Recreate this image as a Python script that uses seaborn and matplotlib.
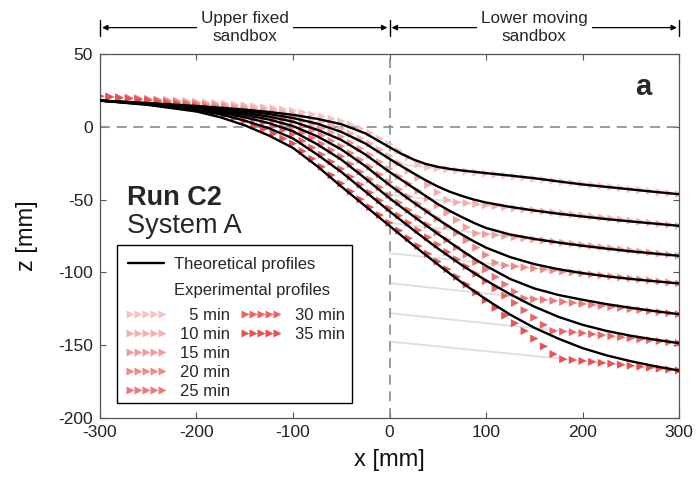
import numpy as np
import pandas as pd
import matplotlib
matplotlib.use("Agg")
import matplotlib.pyplot as plt
import seaborn as sns
from matplotlib.lines import Line2D
from matplotlib.patches import Rectangle
from matplotlib.transforms import blended_transform_factory

# ---------------- data ----------------
times = ["5 min", "10 min", "15 min", "20 min", "25 min", "30 min", "35 min"]

x_theory = [-300, -250, -200, -175, -150, -125, -100, -75, -50, -25, 0, 12.5, 25, 37.5,
            50, 62.5, 75, 87.5, 100, 125, 150, 175, 200, 225, 250, 275, 300]
theory_5 = [18, 16.3, 14.3, 13.1, 11.8, 10.2, 8.2, 5.5, 1.8, -4.5, -14, -18.6, -22.5, -25.5,
            -27.5, -28.9, -30, -30.9, -31.8, -33.5, -35.3, -37.5, -39.6, -41.3, -43, -44.7,
            -46.3]
theory_10 = [18, 16.1, 13.8, 12.4, 10.8, 8.8, 6.0, 2.2, -3.5, -11.5, -22, -27.1, -32, -36.7,
             -41, -44.6, -47.5, -50, -52, -55, -57.5, -59.7, -61.6, -63.4, -65, -66.5, -68]
theory_15 = [18, 16, 13.3, 11.6, 9.5, 7.0, 3.5, -2, -9, -19, -31, -36.5, -42, -47.5,
             -53, -57.8, -62, -66, -69.5, -74, -77, -79.5, -81.7, -83.7, -85.5, -87.1, -88.6]
theory_20 = [18, 15.8, 12.8, 10.7, 8.2, 5, 0.5, -6.5, -15.5, -27, -40, -46, -52, -57.8,
             -63.5, -68.9, -74, -78.7, -83, -89.5, -94.3, -97.8, -100.5, -102.7, -104.5,
             -106.1, -107.6]
theory_25 = [18, 15.6, 12.2, 9.7, 6.5, 2.5, -3, -12, -22.5, -35.5, -49, -55.3, -61.5, -67.5,
             -73.5, -79.3, -85, -90.4, -95.5, -104.5, -111, -115.5, -118.8, -121.8, -124.3,
             -126.6, -128.7]
theory_30 = [18, 15.3, 11.5, 8.5, 4.2, -1, -8, -19, -31, -44.5, -58, -64.5, -71, -77.3,
             -83.5, -89.3, -95, -100.4, -105.5, -115, -123.5, -130.5, -136, -140.2, -143.5,
             -146.2, -148.6]
theory_35 = [18, 15, 10.5, 6.5, 1, -6, -14.5, -27, -41, -54.5, -68, -74.8, -81.5, -88,
             -94.5, -100.8, -107, -112.8, -118.5, -129, -138, -145.5, -152, -157, -161,
             -164.4, -167.4]

x_exp = [-300, -290, -280, -270, -260, -250, -240, -230, -220, -210, -200, -190, -180,
         -170, -160, -150, -140, -130, -120, -110, -100, -90, -80, -70, -60, -50, -40,
         -30, -20, -10, 0, 10, 20, 30, 40, 50, 60, 70, 80, 90, 100, 110, 120, 130, 140,
         150, 160, 170, 180, 190, 200, 210, 220, 230, 240, 250, 260, 270, 280, 290, 300]
exp_5 = [21, 20.7, 20.3, 20, 19.6, 19.3, 18.9, 18.5, 18.1, 17.7, 17.3, 16.8, 16.3, 15.8,
         15.3, 14.8, 14.2, 13.5, 12.8, 12, 11.2, 9.8, 8.5, 7.1, 5.5, 3.9, 1.4, -1.1, -4.3,
         -8.2, -12,
         -16.5, -21, -25.8, -27.8, -28.6, -29.3, -30, -30.7, -31.4, -32.1, -32.8, -33.5,
         -34.2, -34.9, -35.7, -36.4, -37.1, -37.8, -38.5, -39.2, -39.9, -40.6, -41.3, -42,
         -42.8, -43.5, -44.2, -44.9, -45.6, -46.3]
exp_10 = [21, 20.6, 20.2, 19.9, 19.5, 19.1, 18.6, 18.2, 17.7, 17.3, 16.8, 16.2, 15.7, 15.1,
          14.4, 13.8, 13, 12.2, 11.3, 10.1, 9, 7.2, 5.5, 3.4, 1.0, -1.4, -4.7, -7.9, -11.6,
          -15.8, -20,
          -25, -30, -35, -40, -45, -50.3, -51.9, -52.4, -53.1, -53.8, -54.5, -55.2, -55.9,
          -56.7, -57.4, -58.1, -58.8, -59.5, -60.2, -60.9, -61.6, -62.3, -63, -63.8, -64.5,
          -65.2, -65.9, -66.6, -67.3, -68]
exp_15 = [21, 20.6, 20.2, 19.8, 19.4, 19, 18.5, 17.9, 17.4, 16.8, 16.3, 15.6, 14.9, 14.2,
          13.3, 12.5, 11.5, 10.5, 9.3, 7.9, 6.5, 4.0, 1.6, -1.1, -4.0, -6.9, -11, -15, -19.4,
          -24.2, -29,
          -34, -39, -44, -49, -54, -59, -64, -69, -73.2, -73.8, -74.3, -75, -75.8, -76.5,
          -77.3, -78, -78.8, -79.6, -80.3, -81.1, -81.8, -82.6, -83.3, -84.1, -84.8, -85.6,
          -86.3, -87.1, -87.8, -88.6]
exp_20 = [21, 20.6, 20.1, 19.7, 19.2, 18.8, 18.2, 17.6, 17, 16.4, 15.8, 15, 14.1, 13.2,
          12.2, 11.2, 9.9, 8.6, 7.1, 5.3, 3.5, 0.4, -2.6, -6, -9.7, -13.4, -18.1, -22.7,
          -27.6, -32.8, -38,
          -43, -48, -53, -58, -63, -68, -73, -78, -83, -88, -93.3, -95.2, -95.8, -96.5,
          -97.2, -97.9, -98.6, -99.3, -100, -100.7, -101.4, -102, -102.7, -103.4, -104.1,
          -104.8, -105.5, -106.2, -106.9, -107.6]
exp_25 = [21, 20.5, 20, 19.6, 19.1, 18.6, 17.9, 17.2, 16.6, 15.9, 15.2, 14.2, 13.2, 12.1,
          10.8, 9.5, 7.9, 6.3, 4.4, 2.2, 0, -3.9, -7.7, -11.8, -16.1, -20.4, -25.7, -30.9,
          -36.2, -41.6, -47,
          -52.1, -57.2, -62.3, -67.4, -72.5, -77.6, -82.7, -87.8, -92.9, -98, -103.1, -108.2,
          -113.3, -117.8, -118.4, -118.8, -119.5, -120.2, -120.9, -121.6, -122.3, -123,
          -123.7, -124.4, -125.2, -125.9, -126.6, -127.3, -128, -128.7]
exp_30 = [21, 20.5, 19.9, 19.4, 18.8, 18.3, 17.5, 16.8, 16, 15.3, 14.5, 13.3, 12.1, 10.6,
          8.9, 7.2, 5.1, 3, 0.6, -2.2, -5, -9.7, -14.3, -19.1, -24, -28.9, -34.4, -39.8,
          -45.2, -50.6, -56,
          -61, -66, -71, -76, -81, -86, -91, -96, -101, -106, -111, -116, -121, -126, -131,
          -136, -140.3, -140.6, -141.1, -141.7, -142.4, -143.1, -143.8, -144.5, -145.2,
          -145.9, -146.5, -147.2, -147.9, -148.6]
exp_35 = [21, 20.4, 19.8, 19.2, 18.6, 18, 17.1, 16.2, 15.3, 14.4, 13.5, 11.9, 10.3, 8.4,
          6.2, 4, 1.2, -1.6, -4.7, -8.1, -11.5, -16.8, -22, -27.5, -33.2, -38.9, -44.4,
          -49.8, -55.2, -60.6, -66,
          -71.3, -76.6, -81.9, -87.2, -92.5, -97.8, -103.1, -108.4, -113.7, -119, -124.3,
          -129.6, -134.9, -140.2, -145.5, -150.8, -156.1, -159.6, -160.1, -160.8, -161.4,
          -162.1, -162.7, -163.4, -164.1, -164.7, -165.4, -166.1, -166.7, -167.4]

# far-field reference lines in the moving sandbox (from x=0 to x=300)
x_ref = [0, 300]
ref_start = [-25, -46.7, -66, -86.8, -107.4, -128, -147.5]
ref_end = [-46.3, -68, -88.6, -107.6, -128.7, -148.6, -167.4]

x_ticks = [-300, -200, -100, 0, 100, 200, 300]
y_ticks = [-200, -150, -100, -50, 0, 50]

exp_colors = ["#f7c2c2", "#f5b0b0", "#f39d9d", "#f08a8a", "#ee7878", "#eb6565", "#e85252"]

# ---------------- tables ----------------
theories = [theory_5, theory_10, theory_15, theory_20, theory_25, theory_30, theory_35]
exps = [exp_5, exp_10, exp_15, exp_20, exp_25, exp_30, exp_35]
df_theory = pd.concat([pd.DataFrame({"x": x_theory, "z": z, "time": t})
                       for t, z in zip(times, theories)], ignore_index=True)
df_exp = pd.concat([pd.DataFrame({"x": x_exp, "z": z, "time": t})
                    for t, z in zip(times, exps)], ignore_index=True)
df_ref = pd.concat([pd.DataFrame({"x": x_ref, "z": [a, b], "time": t})
                    for t, a, b in zip(times, ref_start, ref_end)], ignore_index=True)

# ---------------- style ----------------
sns.set_theme(style="ticks")
plt.rcParams["font.family"] = ["Liberation Sans", "DejaVu Sans"]
plt.rcParams["axes.unicode_minus"] = False

fig = plt.figure(figsize=(6.97, 4.88), dpi=100)
ax = fig.add_axes([100 / 697, 1 - 418 / 488, 579 / 697, 364 / 488])

sns.lineplot(data=df_ref, x="x", y="z", units="time", estimator=None, color="#dedede",
             lw=1.3, ax=ax, legend=False, zorder=1)
ax.axhline(0, color="#8a8a8a", lw=1.2, dashes=(6, 4), zorder=1.5)
ax.axvline(0, color="#8a8a8a", lw=1.2, dashes=(6, 4), zorder=1.5)
sns.scatterplot(data=df_exp, x="x", y="z", hue="time", hue_order=times,
                palette=exp_colors, marker=">", s=34, linewidth=0, ax=ax,
                legend=False, zorder=2.5)
sns.lineplot(data=df_theory, x="x", y="z", units="time", estimator=None, color="black",
             lw=1.7, ax=ax, legend=False, zorder=3, sort=False)

ax.set_xlim(-300, 300)
ax.set_ylim(-200, 50)
ax.set_xticks(x_ticks)
ax.set_yticks(y_ticks)
ax.tick_params(direction="in", top=True, right=True, length=4, width=0.8,
               color="#555555", labelsize=12.5, labelcolor="#222222", pad=5)
for s in ax.spines.values():
    s.set_color("#555555")
    s.set_linewidth(0.9)
ax.set_xlabel("x [mm]", fontsize=17, color="#111111")
ax.set_ylabel("z [mm]", fontsize=17, color="#111111")
ax.xaxis.set_label_coords(0.5, -0.085)
ax.yaxis.set_label_coords(-0.107, 0.5)

# panel texts
ax.text(0.0466, 0.585, "Run C2", transform=ax.transAxes, fontsize=19.5,
        fontweight="bold", va="baseline", ha="left")
ax.text(0.0466, 0.508, "System A", transform=ax.transAxes, fontsize=19.5,
        va="baseline", ha="left")
ax.text(0.938, 0.909, "a", transform=ax.transAxes, fontsize=21, fontweight="bold",
        va="center", ha="center")

# sandbox header arrows
trans = blended_transform_factory(ax.transData, ax.transAxes)
ya = 1.0725
for x0, x1, lab in [(-300, 0, "Upper fixed\nsandbox"), (0, 300, "Lower moving\nsandbox")]:
    ax.annotate("", xy=(x0, ya), xytext=(x1, ya), xycoords=trans, textcoords=trans,
                arrowprops=dict(arrowstyle="<|-|>", color="black", lw=0.9,
                                mutation_scale=8, shrinkA=1.5, shrinkB=1.5),
                annotation_clip=False)
    ax.text((x0 + x1) / 2, ya, lab, transform=trans, ha="center", va="center",
            fontsize=12.3, linespacing=1.2,
            bbox=dict(fc="white", ec="none", pad=3))
for xb in [-300, 0, 300]:
    ax.plot([xb, xb], [ya - 0.022, ya + 0.022], transform=trans, color="black",
            lw=1.0, clip_on=False)

# legend
frame = Rectangle((0.029, 0.041), 0.406, 0.434, transform=ax.transAxes,
                  fc="white", ec="black", lw=1.0, zorder=5)
ax.add_patch(frame)
hA = [Line2D([], [], color="black", lw=1.7), Line2D([], [], ls="none")]
legA = ax.legend(hA, ["Theoretical profiles", "Experimental profiles"],
                 loc="upper left", bbox_to_anchor=(0.048, 0.442), frameon=False,
                 fontsize=12, handlelength=2.2, handletextpad=0.55,
                 labelspacing=0.68, borderpad=0, borderaxespad=0)
legA.set_zorder(6)
ax.add_artist(legA)
hB = [Line2D([], [], ls="none", marker=">", ms=5.3, color=c, mec="none")
      for c in exp_colors]
labB = ["  " + times[0]] + times[1:]
blank = Line2D([], [], ls="none")
hB_all = hB[:5] + hB[5:] + [blank, blank, blank]
labB_all = labB[:5] + labB[5:] + ["", "", ""]
legB = ax.legend(hB_all, labB_all, loc="upper left", bbox_to_anchor=(0.043, 0.302),
                 frameon=False, fontsize=12, ncol=2, numpoints=5, handlelength=2.5,
                 handletextpad=0.8, labelspacing=0.235, columnspacing=0.6,
                 borderpad=0, borderaxespad=0)
legB.set_zorder(6)

fig.savefig("out.png", dpi=100, facecolor="white")
